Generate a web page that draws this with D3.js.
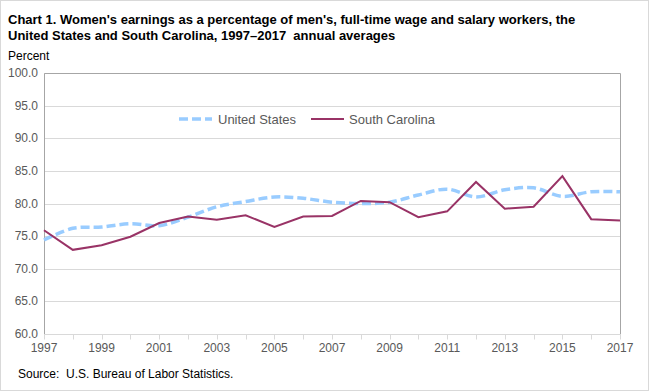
<!DOCTYPE html>
<html>
<head>
<meta charset="utf-8">
<script src="https://cdn.jsdelivr.net/npm/d3@7"></script>
<style>
  body { margin: 0; background: #fff; }
  svg { font-family: "Liberation Sans", Arial, sans-serif; }
  text { white-space: pre; }
</style>
</head>
<body>
<svg id="chart" width="650" height="392"></svg>
<script>
var years = d3.range(1997, 2018);
var us = [74.4, 76.2, 76.4, 76.9, 76.6, 77.9, 79.5, 80.3, 81.0, 80.8, 80.2,
          80.0, 80.2, 81.3, 82.2, 81.0, 82.1, 82.4, 81.1, 81.8, 81.8];
var sc = [75.9, 72.9, 73.6, 74.9, 77.0, 78.0, 77.5, 78.2, 76.4, 78.0, 78.1,
          80.4, 80.2, 77.9, 78.8, 83.3, 79.2, 79.5, 84.2, 77.6, 77.4];
var yTicks = [60, 65, 70, 75, 80, 85, 90, 95, 100];
var xTickLabels = [1997, 1999, 2001, 2003, 2005, 2007, 2009, 2011, 2013, 2015, 2017];

var plot = {left: 44, right: 620, top: 73, bottom: 334};

var svg = d3.select('#chart');

// outer frame
svg.append('rect')
  .attr('x', 0.5).attr('y', 0.5)
  .attr('width', 648).attr('height', 390)
  .style('fill', 'none').style('stroke', '#d9d9d9');

var x = d3.scaleLinear().domain([1997, 2017]).range([plot.left, plot.right]);
var y = d3.scaleLinear().domain([60, 100]).range([plot.bottom, plot.top]);

// gridlines
svg.append('g').selectAll('line')
  .data(yTicks.slice(1))
  .enter().append('line')
  .attr('x1', plot.left).attr('x2', plot.right)
  .attr('y1', d => Math.round(y(d)) + 0.5).attr('y2', d => Math.round(y(d)) + 0.5)
  .style('stroke', '#d9d9d9');

// plot frame: left, right and top
svg.append('path')
  .attr('d', `M${plot.left + 0.5},${plot.bottom}V${plot.top + 0.5}H${plot.right + 0.5}V${plot.bottom}`)
  .style('fill', 'none').style('stroke', '#a6a6a6');

// x axis
var xAxis = svg.append('g')
  .attr('transform', `translate(0, ${plot.bottom + 0.5})`);
xAxis.append('line')
  .attr('x1', plot.left).attr('x2', plot.right + 1)
  .style('stroke', '#d9d9d9');
xAxis.selectAll('.tick')
  .data(years)
  .enter().append('line')
  .attr('x1', d => Math.round(x(d)) + 0.5).attr('x2', d => Math.round(x(d)) + 0.5)
  .attr('y1', 0).attr('y2', 5)
  .style('stroke', '#d9d9d9');
xAxis.selectAll('text')
  .data(xTickLabels)
  .enter().append('text')
  .attr('x', d => x(d))
  .attr('y', 17)
  .attr('text-anchor', 'middle')
  .style('font-size', '12px')
  .style('fill', '#595959')
  .text(d => d);

// y labels
svg.append('g').selectAll('text')
  .data(yTicks)
  .enter().append('text')
  .attr('x', 38)
  .attr('y', d => y(d) + 4)
  .attr('text-anchor', 'end')
  .style('font-size', '12px')
  .style('fill', '#595959')
  .text(d => d.toFixed(1));

// lines
var lineGen = d3.line()
  .x((d, i) => x(years[i]))
  .y(d => y(d));

svg.append('path')
  .attr('d', lineGen.curve(d3.curveCatmullRom)(us))
  .style('fill', 'none')
  .style('stroke', '#99ccff')
  .style('stroke-width', 3.5)
  .style('stroke-dasharray', '9, 4');

svg.append('path')
  .attr('d', lineGen.curve(d3.curveLinear)(sc))
  .style('fill', 'none')
  .style('stroke', '#993366')
  .style('stroke-width', 2);

// legend
var legend = svg.append('g');
legend.append('line')
  .attr('x1', 179).attr('x2', 212).attr('y1', 119).attr('y2', 119)
  .style('stroke', '#99ccff').style('stroke-width', 3.5).style('stroke-dasharray', '9, 4');
legend.append('text')
  .attr('x', 218).attr('y', 124)
  .style('font-size', '13px').style('fill', '#595959')
  .text('United States');
legend.append('line')
  .attr('x1', 311).attr('x2', 344).attr('y1', 119).attr('y2', 119)
  .style('stroke', '#993366').style('stroke-width', 2);
legend.append('text')
  .attr('x', 349).attr('y', 124)
  .style('font-size', '13px').style('fill', '#595959')
  .text('South Carolina');

// title
var title = svg.append('text')
  .attr('x', 8)
  .style('font-size', '13px')
  .style('font-weight', 'bold')
  .style('fill', '#000');
title.append('tspan').attr('x', 8).attr('y', 24)
  .text("Chart 1. Women's earnings as a percentage of men's, full-time wage and salary workers, the");
title.append('tspan').attr('x', 8).attr('y', 40)
  .text('United States and South Carolina, 1997\u20132017  annual averages');

svg.append('text')
  .attr('x', 8).attr('y', 60)
  .style('font-size', '12px')
  .text('Percent');

svg.append('text')
  .attr('x', 18).attr('y', 378)
  .style('font-size', '12px')
  .text('Source:  U.S. Bureau of Labor Statistics.');
</script>
</body>
</html>
